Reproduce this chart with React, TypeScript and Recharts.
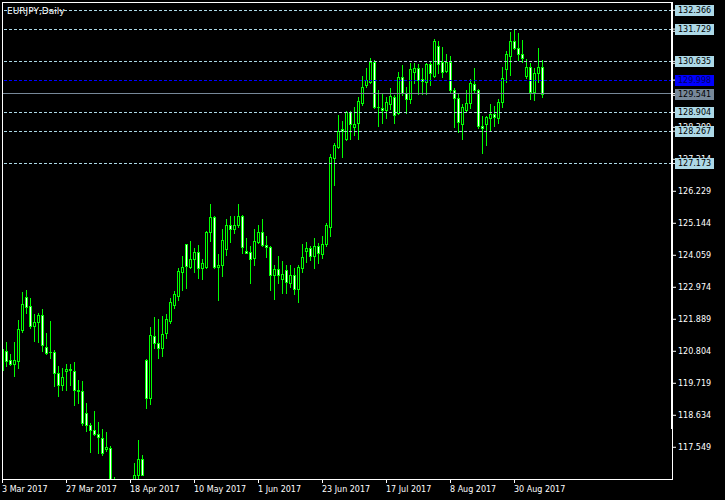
import React from 'react'
import { ComposedChart, Bar, XAxis, YAxis, ReferenceLine } from 'recharts'

// EURJPY daily candles, 3 Mar 2017 .. 7 Sep 2017 (one value per trading day)
const opens = [
  120.170, 120.814, 120.509, 120.373, 120.486, 121.526, 122.636, 122.340, 121.662, 121.798,
  122.025, 120.940, 120.780, 120.780, 120.056, 119.649, 120.126, 120.194, 120.146, 119.482,
  119.448, 118.702, 118.295, 118.136, 118.000, 117.864, 117.481, 117.525, 116.101, 116.237,
  115.830, 115.593, 115.355, 116.101, 116.610, 117.142, 120.509, 119.231, 121.323, 121.075,
  120.926, 121.415, 121.841, 122.363, 122.689, 123.503, 124.442, 123.672, 123.923, 124.160,
  123.638, 123.652, 124.859, 125.347, 123.652, 123.740, 124.262, 125.076, 124.961, 125.076,
  125.391, 124.215, 124.171, 123.957, 124.520, 124.839, 124.408, 124.330, 123.381, 123.584,
  123.266, 123.561, 123.110, 123.381, 122.906, 123.638, 124.215, 124.296, 124.045, 124.374,
  124.093, 124.442, 125.028, 127.348, 127.741, 128.341, 127.992, 128.918, 128.399, 128.534,
  129.233, 129.823, 129.945, 130.613, 129.097, 129.043, 128.985, 129.189, 129.436, 128.873,
  130.094, 129.552, 129.348, 130.284, 130.399, 130.026, 129.925, 130.535, 130.148, 131.166,
  130.603, 130.308, 130.603, 129.664, 129.382, 128.500, 128.985, 129.212, 129.857, 129.653,
  128.453, 128.500, 128.704, 128.840, 128.724, 129.246, 130.365, 130.826, 131.325, 131.077,
  130.894, 130.148, 130.453, 129.606, 130.230, 130.453,
]
const highs = [
  120.984, 121.119, 120.712, 121.119, 121.866, 122.814, 122.882, 122.611, 122.069, 122.093,
  122.229, 121.415, 121.822, 120.848, 120.306, 120.238, 120.373, 120.373, 120.441, 119.831,
  119.787, 119.041, 118.363, 118.790, 118.407, 118.159, 118.068, 117.593, 116.542, 116.373,
  116.101, 115.932, 115.762, 117.006, 117.796, 117.288, 120.526, 121.638, 121.977, 121.899,
  122.001, 122.059, 122.611, 122.848, 123.628, 124.035, 124.442, 124.544, 124.306, 124.408,
  123.923, 124.883, 125.798, 125.391, 124.103, 124.940, 125.279, 125.391, 125.391, 125.798,
  125.425, 124.635, 124.374, 124.940, 125.086, 125.289, 124.713, 124.374, 123.730, 124.035,
  123.876, 123.730, 123.730, 123.618, 123.730, 124.442, 124.520, 124.374, 124.635, 124.466,
  124.713, 125.144, 127.494, 127.856, 128.816, 128.623, 128.951, 128.941, 129.077, 129.436,
  130.138, 130.399, 130.738, 130.681, 129.664, 129.528, 129.436, 129.741, 129.494, 130.274,
  130.511, 129.775, 130.569, 130.589, 130.545, 130.420, 130.569, 130.603, 131.393, 131.325,
  131.111, 130.884, 130.816, 129.721, 129.552, 129.179, 129.664, 130.036, 130.420, 129.687,
  128.792, 128.792, 129.189, 129.121, 129.358, 130.453, 130.986, 131.640, 131.698, 131.586,
  131.359, 130.715, 130.569, 130.420, 131.098, 130.681,
]
const lows = [
  120.103, 120.306, 120.329, 119.967, 120.238, 121.459, 122.113, 121.595, 121.163, 121.119,
  120.804, 120.712, 120.577, 119.628, 119.289, 119.492, 119.492, 119.649, 118.994, 119.041,
  118.315, 118.112, 117.390, 117.977, 117.345, 117.298, 117.433, 116.033, 115.762, 115.593,
  115.253, 115.084, 115.084, 115.932, 116.373, 116.610, 118.891, 119.027, 120.906, 120.587,
  120.655, 121.265, 121.774, 122.282, 122.543, 122.882, 122.960, 123.638, 123.482, 123.299,
  123.266, 123.638, 124.554, 123.618, 122.543, 123.357, 124.079, 124.520, 124.805, 125.008,
  124.147, 124.147, 123.130, 123.720, 124.466, 124.374, 124.011, 122.882, 122.587, 123.130,
  122.791, 122.770, 122.994, 122.747, 122.475, 123.503, 123.842, 123.899, 123.638, 123.808,
  123.977, 124.374, 124.723, 126.442, 127.687, 127.402, 127.968, 128.012, 128.128, 127.992,
  129.155, 129.755, 129.911, 129.043, 128.443, 128.555, 128.704, 129.009, 128.555, 128.850,
  129.494, 128.873, 129.233, 129.911, 129.528, 129.518, 129.518, 129.833, 130.114, 130.230,
  130.114, 130.264, 129.606, 128.419, 128.229, 128.002, 128.951, 129.043, 129.552, 128.385,
  127.538, 127.799, 128.307, 128.453, 128.534, 129.097, 129.945, 130.172, 131.064, 130.681,
  130.623, 130.060, 129.358, 129.324, 129.945, 129.436,
]
const closes = [
  120.882, 120.486, 120.373, 120.509, 121.550, 122.407, 122.316, 121.662, 121.798, 122.045,
  121.008, 120.757, 120.770, 120.056, 119.649, 119.942, 120.214, 120.170, 119.492, 119.458,
  118.383, 118.295, 118.136, 118.000, 117.908, 117.366, 117.549, 116.169, 116.271, 115.830,
  115.593, 115.355, 115.932, 116.610, 117.142, 116.620, 119.231, 121.357, 121.075, 120.926,
  121.380, 121.899, 122.475, 122.747, 123.537, 123.652, 123.706, 123.923, 124.160, 123.638,
  123.787, 124.849, 125.347, 123.652, 123.740, 124.577, 125.076, 124.961, 125.076, 125.381,
  124.330, 124.147, 123.943, 124.544, 124.839, 124.398, 124.330, 123.381, 123.584, 123.381,
  123.415, 123.164, 123.381, 122.906, 123.652, 124.011, 124.296, 124.045, 124.374, 124.127,
  124.442, 125.076, 127.382, 127.799, 128.284, 128.284, 128.918, 128.511, 128.511, 129.290,
  129.755, 130.002, 130.613, 129.097, 129.087, 128.985, 129.246, 129.460, 128.816, 130.094,
  129.572, 129.348, 130.365, 130.399, 130.002, 129.969, 130.535, 130.250, 131.325, 130.535,
  130.284, 130.623, 129.653, 129.382, 128.589, 129.097, 129.212, 129.891, 129.653, 128.453,
  128.385, 128.738, 128.840, 128.738, 129.267, 130.080, 130.874, 131.325, 131.077, 130.874,
  130.759, 130.453, 129.606, 130.230, 130.453, 129.541,
]

const dateTickIndex = [0, 16, 32, 48, 64, 80, 96, 112, 128]
const dateLabels = [
  '3 Mar 2017', '27 Mar 2017', '18 Apr 2017', '10 May 2017', '1 Jun 2017',
  '23 Jun 2017', '17 Jul 2017', '8 Aug 2017', '30 Aug 2017',
]
const priceTicks = [
  117.549, 118.634, 119.719, 120.804, 121.889, 122.974, 124.059,
  125.144, 126.229, 127.314, 128.399, 129.484, 130.569, 131.654,
]
const dashedLevels = [132.366, 131.729, 130.635, 128.904, 128.267, 127.173]
const blueLevel = 129.998
const bidLevel = 129.541

const candles = opens.map((open, i) => ({
  i,
  open,
  high: highs[i],
  low: lows[i],
  close: closes[i],
}))

const W = 725
const H = 500
const LIME = '#00ff00'
const LIGHT_BLUE = '#add8e6'
const SLATE = '#778899'
const FONT = '"DejaVu Sans", sans-serif'

// level tags are drawn as the last axis ticks so they sit on top of the scale labels
const axisTicks = [...priceTicks, ...dashedLevels, blueLevel, bidLevel]

function tagColors(v: number) {
  if (v === blueLevel) return { bg: '#0000ff', fg: '#000060' }
  if (v === bidLevel) return { bg: SLATE, fg: '#000' }
  if (dashedLevels.includes(v)) return { bg: LIGHT_BLUE, fg: '#000' }
  return null
}

function Candle(props: any) {
  const { x, y, width, height, payload } = props
  const { open, high, low, close } = payload
  const cx = Math.floor(x + width / 2) + 0.5
  const top = Math.min(y, y + height)
  const h = Math.abs(height)
  const span = high - low
  const toY = (v: number) => Math.round(span > 0 ? top + ((high - v) / span) * h : top)
  const yHigh = toY(high)
  const yLow = toY(low)
  const yo = toY(open)
  const yc = toY(close)
  const bTop = Math.min(yo, yc)
  const bBot = Math.max(yo, yc)
  const bull = close > open
  return (
    <g>
      <line x1={cx} x2={cx} y1={yHigh} y2={yLow + 1} stroke={LIME} strokeWidth={1} />
      {bBot - bTop < 1 ? (
        <line x1={cx - 1.5} x2={cx + 1.5} y1={bTop + 0.5} y2={bTop + 0.5} stroke={LIME} strokeWidth={1} />
      ) : (
        <rect
          x={cx - 1}
          y={bTop + 0.5}
          width={2}
          height={bBot - bTop}
          fill={bull ? '#000' : '#fff'}
          stroke={LIME}
          strokeWidth={1}
        />
      )}
    </g>
  )
}

function PriceTick({ x, y, payload }: any) {
  const v = Number(payload.value)
  const tag = tagColors(v)
  if (tag) {
    return (
      <g>
        <rect x={x - 3} y={Math.round(y) - 5} width={39} height={11} fill={tag.bg} />
        <text x={x} y={y + 3} fill={tag.fg} fontSize={8} fontFamily={FONT} textAnchor="start">
          {v.toFixed(3)}
        </text>
      </g>
    )
  }
  return (
    <text x={x} y={y + 3} fill="#fff" fontSize={8} fontFamily={FONT} textAnchor="start">
      {v.toFixed(3)}
    </text>
  )
}

function DateTick({ x, y, payload }: any) {
  const k = dateTickIndex.indexOf(payload.value)
  return (
    <text x={x - 0.5} y={y + 7} fill="#fff" fontSize={8} fontFamily={FONT} textAnchor="start">
      {dateLabels[k]}
    </text>
  )
}

export default function App() {
  return (
    <div style={{ position: 'absolute', left: 0, top: 0, width: W, height: H, background: '#000' }}>
      <ComposedChart width={W} height={H} data={candles} margin={{ top: 2, right: 0, bottom: 0, left: 2 }}>
        <XAxis
          dataKey="i"
          type="number"
          domain={[-0.125, 167.375]}
          allowDataOverflow
          ticks={dateTickIndex}
          interval={0}
          height={21}
          tickSize={4}
          tickLine={{ stroke: '#fff' }}
          axisLine={false}
          tick={<DateTick />}
        />
        <YAxis
          orientation="right"
          width={53}
          domain={[116.474, 132.647]}
          allowDataOverflow
          ticks={axisTicks}
          interval={0}
          tickSize={4}
          tickLine={{ stroke: '#fff' }}
          axisLine={false}
          tick={<PriceTick />}
        />
        {dashedLevels.map((p) => (
          <ReferenceLine key={p} y={p} stroke={LIGHT_BLUE} strokeDasharray="3 2" shapeRendering="crispEdges" />
        ))}
        <ReferenceLine y={blueLevel} stroke="#0000ff" strokeDasharray="3 2" shapeRendering="crispEdges" />
        <ReferenceLine y={bidLevel} stroke={SLATE} shapeRendering="crispEdges" />
        <Bar
          dataKey={(d: any) => [d.low, d.high]}
          barSize={4}
          shape={<Candle />}
          isAnimationActive={false}
        />
      </ComposedChart>
      <svg width={W} height={H} style={{ position: 'absolute', left: 0, top: 0, pointerEvents: 'none' }}>
        <line x1={2} x2={673} y1={2.5} y2={2.5} stroke="#fff" />
        <line x1={2.5} x2={2.5} y1={2} y2={480} stroke="#fff" />
        <line x1={2} x2={673} y1={479.5} y2={479.5} stroke="#fff" />
        <line x1={672.5} x2={672.5} y1={2} y2={480} stroke="#fff" />
        <rect x={671} y={2} width={2} height={427} fill="#fff" />
        <text x={7} y={13.5} fill="#fff" fontSize={9} fontFamily={FONT}>
          EURJPY,Daily
        </text>
      </svg>
    </div>
  )
}
